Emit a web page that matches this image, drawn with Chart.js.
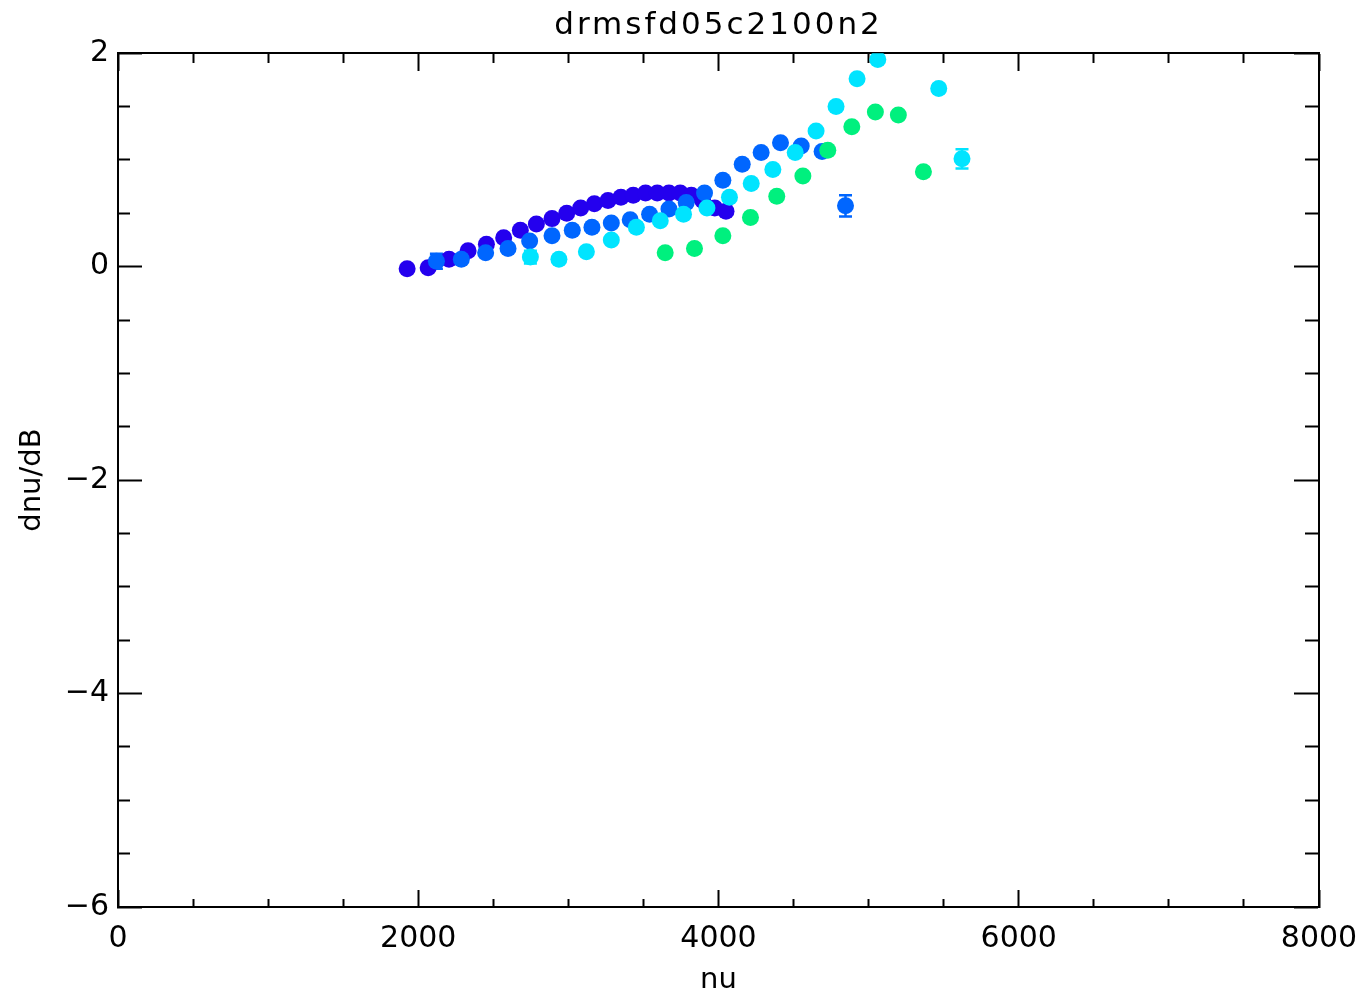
<!DOCTYPE html>
<html>
<head>
<meta charset="utf-8">
<title>drmsfd05c2100n2</title>
<script src="https://cdn.jsdelivr.net/npm/chart.js@4.4.1/dist/chart.umd.min.js"></script>
<style>
  html, body { margin: 0; padding: 0; background: #fff; }
  canvas { display: block; }
</style>
</head>
<body>
<canvas id="dnuChart" width="1360" height="993"></canvas>
<script>
// values (nu, dnu/dB, error)
const nu1 = [1926, 2066, 2205, 2332, 2454, 2569, 2680, 2787, 2891, 2989, 3082, 3173, 3264, 3350, 3432, 3514, 3592, 3670, 3745, 3819, 3895, 3975, 4050];
const dnu1 = [-0.02, -0.01, 0.07, 0.15, 0.21, 0.27, 0.34, 0.40, 0.45, 0.50, 0.55, 0.59, 0.62, 0.65, 0.67, 0.69, 0.69, 0.69, 0.69, 0.67, 0.62, 0.55, 0.52];
const err1 = [0.02, 0.02, 0.02, 0.02, 0.02, 0.02, 0.02, 0.02, 0.02, 0.02, 0.02, 0.02, 0.02, 0.02, 0.02, 0.02, 0.02, 0.02, 0.02, 0.02, 0.02, 0.02, 0.02];

const nu2 = [2121, 2287, 2449, 2598, 2742, 2891, 3026, 3157, 3286, 3412, 3541, 3670, 3785, 3907, 4029, 4158, 4284, 4413, 4551, 4690, 4846];
const dnu2 = [0.05, 0.07, 0.13, 0.17, 0.24, 0.29, 0.34, 0.37, 0.41, 0.44, 0.49, 0.54, 0.60, 0.69, 0.81, 0.96, 1.07, 1.16, 1.13, 1.08, 0.57];
const err2 = [0.07, 0.02, 0.02, 0.02, 0.02, 0.02, 0.02, 0.02, 0.02, 0.02, 0.02, 0.02, 0.02, 0.02, 0.02, 0.02, 0.02, 0.02, 0.03, 0.03, 0.10];

const nu3 = [2747, 2937, 3120, 3286, 3453, 3612, 3767, 3923, 4073, 4218, 4362, 4511, 4650, 4783, 4923, 5061, 5467, 5622];
const dnu3 = [0.09, 0.07, 0.14, 0.25, 0.37, 0.43, 0.49, 0.55, 0.65, 0.78, 0.91, 1.07, 1.27, 1.50, 1.76, 1.94, 1.67, 1.01];
const err3 = [0.06, 0.02, 0.02, 0.02, 0.02, 0.02, 0.02, 0.02, 0.02, 0.02, 0.02, 0.02, 0.02, 0.02, 0.03, 0.03, 0.04, 0.09];

const nu4 = [3645, 3840, 4029, 4213, 4388, 4562, 4728, 4888, 5045, 5198, 5365];
const dnu4 = [0.13, 0.17, 0.29, 0.46, 0.66, 0.85, 1.09, 1.31, 1.45, 1.42, 0.89];
const err4 = [0.02, 0.02, 0.02, 0.02, 0.02, 0.02, 0.02, 0.03, 0.03, 0.03, 0.04];

const xTicks = [0, 2000, 4000, 6000, 8000];
const yTicks = [-6, -4, -2, 0, 2];

const toPoints = (xs, ys, es) => xs.map((x, i) => ({ x: x, y: ys[i], err: es[i] }));

const isMajor = (v, list) => list.some((t) => Math.abs(t - v) < 1e-6);

// error bars drawn under the dots, caps like the IDL plot
const errorBars = {
  id: "errorBars",
  beforeDatasetsDraw(chart) {
    const ctx = chart.ctx;
    const x = chart.scales.x;
    const y = chart.scales.y;
    ctx.save();
    ctx.lineWidth = 2.5;
    chart.data.datasets.forEach((ds) => {
      ctx.strokeStyle = ds.backgroundColor;
      ds.data.forEach((p) => {
        const px = x.getPixelForValue(p.x);
        const top = y.getPixelForValue(p.y + p.err);
        const bot = y.getPixelForValue(p.y - p.err);
        ctx.beginPath();
        ctx.moveTo(px, top);
        ctx.lineTo(px, bot);
        ctx.moveTo(px - 6.5, top);
        ctx.lineTo(px + 6.5, top);
        ctx.moveTo(px - 6.5, bot);
        ctx.lineTo(px + 6.5, bot);
        ctx.stroke();
      });
    });
    ctx.restore();
  },
};

// the title in the original is spaced out a bit
const titleSpacing = {
  id: "titleSpacing",
  afterInit(chart) {
    const block = chart.titleBlock;
    if (!block) return;
    const draw = block.draw;
    block.draw = function (area) {
      this.ctx.save();
      this.ctx.letterSpacing = "3px";
      draw.call(this, area);
      this.ctx.restore();
    };
  },
};

Chart.defaults.font.family = "'DejaVu Sans', sans-serif";
Chart.defaults.color = "#000";

const minusLabel = (v) => (v < 0 ? "\u2212" + Math.abs(v) : String(v));

new Chart(document.getElementById("dnuChart"), {
  type: "scatter",
  data: {
    datasets: [
      { label: "n1", data: toPoints(nu1, dnu1, err1), backgroundColor: "#2400ee", order: 4 },
      { label: "n2", data: toPoints(nu2, dnu2, err2), backgroundColor: "#0066ff", order: 3 },
      { label: "n3", data: toPoints(nu3, dnu3, err3), backgroundColor: "#00e4ff", order: 2 },
      { label: "n4", data: toPoints(nu4, dnu4, err4), backgroundColor: "#00f07e", order: 1 },
    ],
  },
  options: {
    responsive: false,
    animation: false,
    layout: { padding: { left: 0, right: 41, top: 0, bottom: 0 } },
    elements: {
      point: { radius: 8.5, hoverRadius: 8.5, borderWidth: 0, pointStyle: "circle" },
    },
    scales: {
      x: {
        type: "linear",
        position: "bottom",
        min: 0,
        max: 8000,
        afterFit: (scale) => {
          scale.height = 86;
          scale.paddingLeft = 0;
          scale.paddingRight = 0;
        },
        ticks: {
          stepSize: 500,
          autoSkip: false,
          maxRotation: 0,
          padding: 31,
          font: { size: 30 },
          callback: (v) => (isMajor(v, xTicks) ? String(v) : ""),
        },
        grid: {
          drawOnChartArea: false,
          tickLength: -17,
          tickWidth: 2,
          tickColor: "#000",
          tickBorderDash: (c) => (isMajor(c.tick.value, xTicks) ? [] : [9, 30]),
        },
        border: { display: true, color: "#000", width: 2 },
        title: { display: true, text: "nu", font: { size: 29 }, padding: { top: 0, bottom: -5 } },
      },
      y: {
        type: "linear",
        position: "left",
        min: -6,
        max: 2,
        afterFit: (scale) => {
          scale.width = 118;
          scale.paddingTop = 0;
          scale.paddingBottom = 0;
        },
        ticks: {
          stepSize: 0.5,
          autoSkip: false,
          padding: 33,
          font: { size: 30 },
          callback: (v) => (isMajor(v, yTicks) ? minusLabel(v) : ""),
        },
        grid: {
          drawOnChartArea: false,
          tickLength: -24,
          tickWidth: 2,
          tickColor: "#000",
          tickBorderDash: (c) => (isMajor(c.tick.value, yTicks) ? [] : [13, 12]),
          tickBorderDashOffset: (c) => (isMajor(c.tick.value, yTicks) ? 0 : 13),
        },
        border: { display: true, color: "#000", width: 2 },
        title: { display: true, text: "dnu/dB", font: { size: 29 }, padding: { top: 15, bottom: 0 } },
      },
      xTop: {
        type: "linear",
        axis: "x",
        position: { y: 2 },
        min: 0,
        max: 8000,
        ticks: { display: false, stepSize: 500, autoSkip: false },
        grid: {
          drawOnChartArea: false,
          tickLength: 17,
          tickWidth: 2,
          tickColor: "#000",
          tickBorderDash: (c) => (isMajor(c.tick.value, xTicks) ? [] : [9, 30]),
        },
        border: { display: true, color: "#000", width: 2 },
      },
      yRight: {
        type: "linear",
        axis: "y",
        position: { x: 8000 },
        min: -6,
        max: 2,
        ticks: { display: false, stepSize: 0.5, autoSkip: false },
        grid: {
          drawOnChartArea: false,
          tickLength: 24,
          tickWidth: 2,
          tickColor: "#000",
          tickBorderDash: (c) => (isMajor(c.tick.value, yTicks) ? [] : [13, 30]),
        },
        border: { display: true, color: "#000", width: 2 },
      },
    },
    plugins: {
      legend: { display: false },
      tooltip: { enabled: false },
      title: {
        display: true,
        text: "drmsfd05c2100n2",
        fullSize: false,
        color: "#000",
        font: { size: 31, weight: "normal" },
        padding: { top: 7, bottom: 9 },
      },
    },
  },
  plugins: [errorBars, titleSpacing],
});
</script>
</body>
</html>
